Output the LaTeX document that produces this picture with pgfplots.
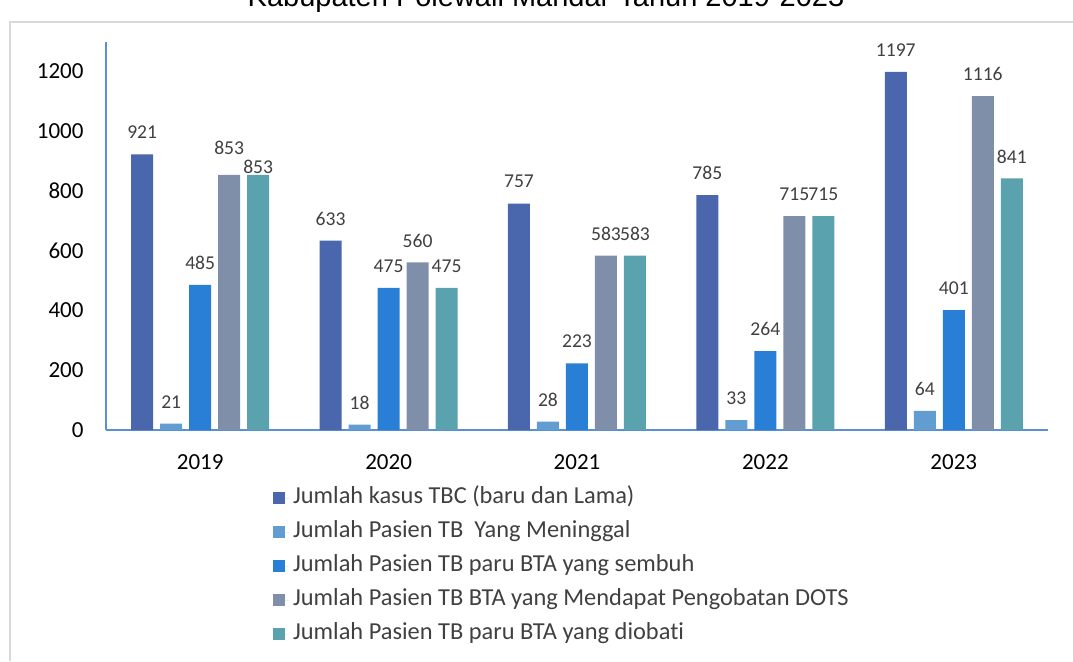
\documentclass[border=0pt]{standalone}
\usepackage{fontspec}
\setmainfont{Carlito}[Ligatures=NoCommon]
\newfontfamily\titlefont{Liberation Sans}
\usepackage{pgfplots}
\usepackage{pgfplotstable}
\pgfplotsset{compat=1.18}
\definecolor{cA}{HTML}{4A66AC}
\definecolor{cB}{HTML}{629DD1}
\definecolor{cC}{HTML}{297FD5}
\definecolor{cD}{HTML}{7F8FA9}
\definecolor{cE}{HTML}{5AA2AE}
\definecolor{axisblue}{HTML}{5B8FD6}
\definecolor{labgray}{HTML}{404040}
\definecolor{framegray}{HTML}{D9D9D9}

\pgfplotstableread{
x y o
0 921 11
1 633 11
2 757 11
3 785 11
4 1197 11
}\tA
\pgfplotstableread{
x y o
0 21 11
1 18 11
2 28 11
3 33 11
4 64 11
}\tB
\pgfplotstableread{
x y o
0 485 11
1 475 11
2 223 11
3 264 11
4 401 11
}\tC
\pgfplotstableread{
x y o
0 853 13.5
1 560 11
2 583 11
3 715 11
4 1116 11
}\tD
\pgfplotstableread{
x y o
0 853 4
1 475 11
2 583 11
3 715 11
4 841 11
}\tE

\begin{document}
\begin{tikzpicture}
\useasboundingbox (0,0) rectangle (536.5pt,330.5pt);
\clip (0,0) rectangle (536.5pt,330.5pt);
\draw[color=framegray, line width=1pt] (5pt,0) -- (5pt,319.5pt) -- (540pt,319.5pt);
\node[font=\titlefont\fontsize{14.5}{17}\selectfont, anchor=base, inner sep=0pt] at (273pt,327.5pt) {Kabupaten Polewali Mandar Tahun 2019-2023};
\begin{axis}[
  ybar, bar width=11pt, ybar=3.5pt,
  scale only axis, width=471pt, height=194pt,
  at={(53pt,115.5pt)}, anchor=south west,
  xmin=-0.5, xmax=4.5, ymin=0, ymax=1297,
  xtick={0,1,2,3,4}, xticklabels={2019,2020,2021,2022,2023},
  ytick={0,200,400,600,800,1000,1200},
  axis x line*=bottom, axis y line*=left,
  axis line style={color=axisblue, line width=0.6pt},
  major tick length=0pt,
  tick label style={font=\fontsize{11.5}{13}\selectfont, black},
  yticklabel style={xshift=-7.7pt},
  xticklabel style={yshift=-8.6pt},
  /pgf/number format/assume math mode=true,
  /pgf/number format/1000 sep={},
  nodes near coords,
  visualization depends on={\thisrow{o}\as\myoff},
  every node near coord/.append style={font=\fontsize{9.8}{11}\selectfont, color=labgray, anchor=center, yshift=\myoff pt, inner sep=0pt},
  legend style={draw=none, fill=none, at={(0.177,-0.137)}, anchor=north west,
    font=\fontsize{12.2}{14}\selectfont, text=labgray, row sep=2.5pt, inner sep=0pt,
    nodes={inner sep=2pt, text height=8pt, text depth=2.5pt}},
  legend cell align=left,
  legend image code/.code={\fill[#1] (0pt,-3pt) rectangle (6pt,3pt); \path (0pt,0pt) -- (8pt,0pt);},
]
\addplot[fill=cA, draw=none] table[x=x,y=y] {\tA};
\addplot[fill=cB, draw=none] table[x=x,y=y] {\tB};
\addplot[fill=cC, draw=none] table[x=x,y=y] {\tC};
\addplot[fill=cD, draw=none] table[x=x,y=y] {\tD};
\addplot[fill=cE, draw=none] table[x=x,y=y] {\tE};
\legend{Jumlah kasus TBC (baru dan Lama),Jumlah Pasien TB\ \ Yang Meninggal,Jumlah Pasien TB paru BTA yang sembuh,Jumlah Pasien TB BTA yang Mendapat Pengobatan DOTS,Jumlah Pasien TB paru BTA yang diobati}
\end{axis}
\end{tikzpicture}
\end{document}
